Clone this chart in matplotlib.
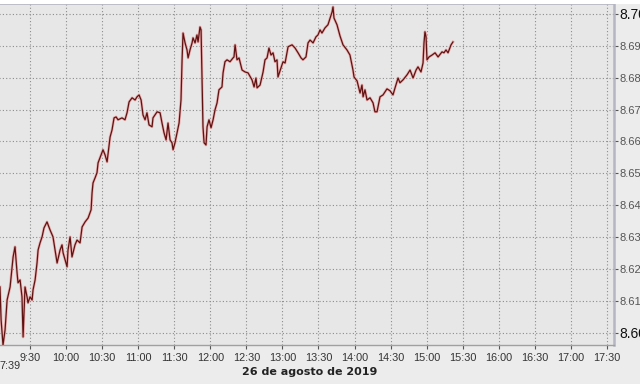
import matplotlib
matplotlib.use("Agg")
import matplotlib.pyplot as plt
from matplotlib.patches import Rectangle
import matplotlib.transforms as mtransforms

# minutes after 9:30 (26 Aug 2019)
minutes = [-25.0, -24.1, -22.5, -20.8, -19.1, -16.6, -14.1, -12.5, -10.8, -10.0,
           -8.3, -6.7, -5.8, -4.2, -2.5, -1.7, 0.0, 1.7, 2.5, 4.2,
           5.8, 6.7, 8.3, 10.0, 11.6, 14.1, 16.6, 19.1, 20.8, 22.5,
           25.0, 26.6, 27.5, 30.8, 31.6, 33.3, 34.9, 37.4, 39.1, 41.6,
           43.3, 45.8, 48.3, 50.8, 51.6, 52.4, 54.1, 55.7, 56.6, 58.2,
           60.7, 62.4, 64.1, 66.6, 68.2, 69.9, 71.6, 73.2, 76.5, 79.0,
           80.7, 82.4, 84.9, 87.4, 89.0, 90.7, 92.4, 94.0, 95.7, 97.3,
           99.0, 101.5, 102.3, 105.7, 108.2, 109.8, 111.5, 113.2, 114.8, 116.5,
           118.1, 119.0, 120.6, 122.3, 124.0, 125.6, 126.5, 127.3, 129.0, 130.6,
           131.5, 133.1, 134.8, 135.6, 137.3, 138.9, 139.8, 141.4, 142.3, 143.1,
           143.9, 144.8, 146.4, 147.3, 148.9, 150.6, 152.3, 153.9, 155.6, 157.2,
           159.7, 160.6, 162.2, 163.9, 166.4, 168.9, 169.7, 170.6, 172.2, 173.9,
           176.4, 178.9, 181.4, 184.7, 186.4, 188.0, 188.9, 191.4, 193.9, 195.5,
           197.2, 198.8, 200.5, 202.2, 203.8, 205.5, 206.3, 208.8, 210.5, 212.2,
           214.7, 218.0, 220.5, 223.0, 225.5, 227.1, 229.6, 231.3, 233.0, 235.5,
           237.9, 239.6, 241.3, 242.9, 245.4, 247.9, 251.3, 252.1, 252.9, 255.4,
           257.9, 260.4, 263.7, 266.2, 268.7, 269.6, 272.1, 274.6, 276.2, 277.1,
           278.7, 280.4, 282.9, 285.4, 287.0, 288.7, 291.2, 293.7, 297.0, 299.5,
           302.0, 303.7, 306.2, 307.8, 310.3, 313.7, 316.2, 318.7, 321.2, 322.8,
           325.3, 327.0, 327.8, 328.6, 329.5, 330.3, 332.0, 334.5, 337.0, 339.5,
           342.8, 344.4, 346.1, 347.8, 350.3, 351.9]

rate = [8.6144, 8.6041, 8.5962, 8.6009, 8.6103, 8.6144, 8.6238, 8.6270, 8.6188, 8.6157,
        8.6166, 8.6113, 8.5987, 8.6144, 8.6113, 8.6094, 8.6113, 8.6103, 8.6135, 8.6166,
        8.6219, 8.6260, 8.6282, 8.6301, 8.6329, 8.6348, 8.6323, 8.6301, 8.6260, 8.6219,
        8.6260, 8.6276, 8.6251, 8.6207, 8.6260, 8.6301, 8.6238, 8.6276, 8.6291, 8.6282,
        8.6332, 8.6348, 8.6360, 8.6386, 8.6439, 8.6470, 8.6486, 8.6502, 8.6533, 8.6549,
        8.6574, 8.6558, 8.6536, 8.6614, 8.6636, 8.6674, 8.6677, 8.6668, 8.6674, 8.6668,
        8.6690, 8.6724, 8.6737, 8.6730, 8.6740, 8.6746, 8.6730, 8.6683, 8.6668, 8.6690,
        8.6652, 8.6646, 8.6674, 8.6693, 8.6690, 8.6658, 8.6627, 8.6605, 8.6658, 8.6605,
        8.6596, 8.6574, 8.6596, 8.6627, 8.6658, 8.6730, 8.6856, 8.6940, 8.6909, 8.6887,
        8.6862, 8.6887, 8.6909, 8.6925, 8.6909, 8.6934, 8.6912, 8.6959, 8.6950, 8.6793,
        8.6646, 8.6596, 8.6589, 8.6646, 8.6668, 8.6643, 8.6668, 8.6699, 8.6721, 8.6762,
        8.6771, 8.6815, 8.6850, 8.6856, 8.6850, 8.6862, 8.6865, 8.6903, 8.6856, 8.6862,
        8.6824, 8.6818, 8.6815, 8.6793, 8.6771, 8.6799, 8.6768, 8.6777, 8.6818, 8.6856,
        8.6862, 8.6893, 8.6871, 8.6878, 8.6850, 8.6856, 8.6802, 8.6831, 8.6850, 8.6846,
        8.6897, 8.6903, 8.6893, 8.6878, 8.6862, 8.6856, 8.6865, 8.6909, 8.6918, 8.6909,
        8.6928, 8.6934, 8.6950, 8.6940, 8.6956, 8.6966, 8.7006, 8.7022, 8.6987, 8.6966,
        8.6931, 8.6903, 8.6887, 8.6871, 8.6824, 8.6802, 8.6790, 8.6752, 8.6777, 8.6740,
        8.6762, 8.6730, 8.6737, 8.6721, 8.6693, 8.6693, 8.6740, 8.6746, 8.6765, 8.6759,
        8.6746, 8.6768, 8.6799, 8.6784, 8.6793, 8.6809, 8.6824, 8.6799, 8.6824, 8.6834,
        8.6818, 8.6846, 8.6909, 8.6944, 8.6928, 8.6856, 8.6865, 8.6871, 8.6878, 8.6865,
        8.6881, 8.6878, 8.6887, 8.6878, 8.6903, 8.6912]

x_tick_minutes = [0, 30, 60, 90, 120, 150, 180, 210, 240, 270, 300, 330, 360, 390, 420, 450, 480]
x_tick_labels = ["9:30", "10:00", "10:30", "11:00", "11:30", "12:00", "12:30", "13:00",
                 "13:30", "14:00", "14:30", "15:00", "15:30", "16:00", "16:30", "17:00", "17:30"]
start_label = "7:39"
y_ticks = [8.60, 8.61, 8.62, 8.63, 8.64, 8.65, 8.66, 8.67, 8.68, 8.69, 8.70]
y_tick_labels = ["8.600", "8.610", "8.620", "8.630", "8.640", "8.650", "8.660",
                 "8.670", "8.680", "8.690", "8.700"]
date_label = "26 de agosto de 2019"

fig = plt.figure(figsize=(6.4, 3.84), dpi=100, facecolor="#ececec")
ax = fig.add_axes([-3 / 640, 39 / 384, 617 / 640, 341 / 384])
ax.set_facecolor("#e7e7e7")

ax.plot(minutes, rate, color="#ebb0b0", lw=2.0, solid_joinstyle="round", zorder=3)
ax.plot(minutes, rate, color="#5e1212", lw=0.9, solid_joinstyle="round", zorder=4)

ax.set_xlim(-27.5, 485.9)
ax.set_ylim(8.5962, 8.7031)

ax.set_xticks(x_tick_minutes)
ax.set_xticklabels(x_tick_labels)
ax.yaxis.tick_right()
ax.set_yticks(y_ticks)
ax.set_yticklabels(y_tick_labels)

ax.grid(True, linestyle=(0, (1, 2)), color="#8c8c8c", lw=0.8, zorder=1)
ax.set_axisbelow(True)

for lbl in ax.get_xticklabels():
    lbl.set_fontfamily("Liberation Sans")
    lbl.set_fontsize(7.8)
    lbl.set_color("#333333")
for i, lbl in enumerate(ax.get_yticklabels()):
    lbl.set_fontfamily("Liberation Sans")
    if i in (0, len(y_ticks) - 1):
        lbl.set_fontsize(10)
        lbl.set_color("#111111")
    else:
        lbl.set_fontsize(8)
        lbl.set_color("#555555")

ax.tick_params(axis="x", length=3, width=0.8, color="#555555", pad=3)
ax.tick_params(axis="y", length=3, width=0.8, color="#555555", pad=1)

ax.spines["left"].set_visible(False)
ax.spines["top"].set_color("#b4b6c2")
ax.spines["top"].set_linewidth(1.2)
ax.spines["right"].set_color("#b4b6c2")
ax.spines["right"].set_linewidth(1.8)
ax.spines["bottom"].set_color("#a0a0a0")
ax.spines["bottom"].set_linewidth(1.0)

trans = mtransforms.blended_transform_factory(ax.transData, ax.transAxes)
ax.text(-16.5, -0.047, start_label, transform=trans, ha="center", va="top",
        fontfamily="Liberation Sans", fontsize=7.8, color="#333333")

fig.text(310 / 640, 1 - 372 / 384, date_label, ha="center", va="center",
         fontfamily="DejaVu Sans", fontweight="bold", fontsize=8, color="#222222")

fig.patches.append(Rectangle((0, 380 / 384), 1, 4 / 384, transform=fig.transFigure,
                             facecolor="white", edgecolor="none", zorder=0))

fig.savefig("out.png", dpi=100, facecolor=fig.get_facecolor())
